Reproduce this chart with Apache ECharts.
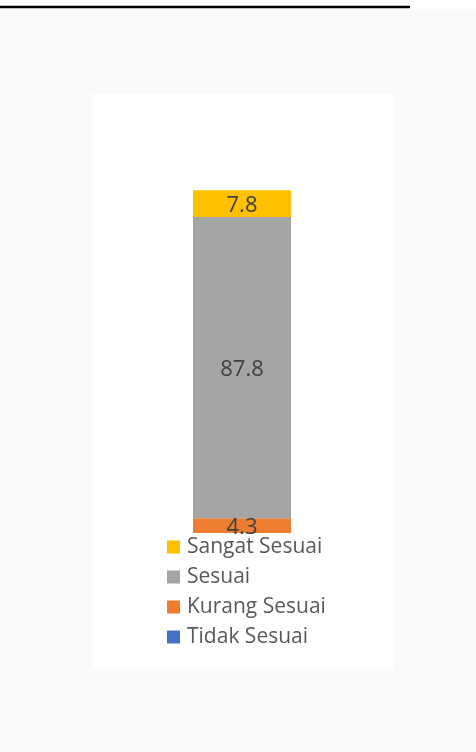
<!DOCTYPE html>
<html>
<head>
<meta charset="utf-8">
<script src="https://cdn.jsdelivr.net/npm/echarts@6/dist/echarts.min.js"></script>
<style>
  html, body { margin: 0; padding: 0; background: #ffffff; }
  #chart { width: 476px; height: 752px; }
</style>
</head>
<body>
<div id="chart"></div>
<script>
// Single stacked column: share of responses per rating level (percent)
const categories = ['Penilaian'];
const tidakSesuai = [0];
const kurangSesuai = [4.3];
const sesuai = [87.8];
const sangatSesuai = [7.8];
const legendOrder = ['Sangat Sesuai', 'Sesuai', 'Kurang Sesuai', 'Tidak Sesuai'];

const colors = {
  'Tidak Sesuai': '#4472c4',
  'Kurang Sesuai': '#ed7d31',
  'Sesuai': '#a5a5a5',
  'Sangat Sesuai': '#ffc000'
};

const font = '"Open Sans", "Noto Sans", sans-serif';

function segment(name, values) {
  return {
    name: name,
    type: 'bar',
    stack: 'total',
    barWidth: 98,
    data: values,
    itemStyle: { color: colors[name] },
    label: {
      show: true,
      position: 'inside',
      offset: [0, 2],
      color: '#404040',
      fontFamily: font,
      fontSize: 22,
      formatter: p => (p.value > 0 ? p.value.toFixed(1) : '')
    },
    emphasis: { disabled: true }
  };
}

const chart = echarts.init(document.getElementById('chart'), null, { renderer: 'canvas' });
chart.setOption({
  backgroundColor: '#fafafa',
  animation: false,
  graphic: [
    { type: 'rect', left: 0, top: 0, shape: { width: 476, height: 9 }, style: { fill: '#ffffff' }, z: -10 },
    { type: 'line', shape: { x1: 0, y1: 7, x2: 410, y2: 7 }, style: { stroke: '#000000', lineWidth: 2.5 }, z: -5 },
    { type: 'rect', shape: { x: 92, y: 94, width: 302, height: 575 }, style: { fill: '#ffffff' }, z: -10 }
  ],
  grid: { left: 92, right: 84, top: 190, bottom: 219, containLabel: false },
  xAxis: { type: 'category', data: categories, show: false },
  yAxis: { type: 'value', min: 0, max: 100, show: false },
  legend: {
    orient: 'vertical',
    left: 167,
    top: 536,
    padding: 0,
    itemWidth: 13,
    itemHeight: 13,
    itemGap: 8,
    icon: 'rect',
    data: legendOrder,
    selectedMode: false,
    textStyle: { color: '#595959', fontFamily: font, fontSize: 21, lineHeight: 22, padding: [0, 0, 0, 2] }
  },
  series: [
    segment('Tidak Sesuai', tidakSesuai),
    segment('Kurang Sesuai', kurangSesuai),
    segment('Sesuai', sesuai),
    segment('Sangat Sesuai', sangatSesuai)
  ]
});
</script>
</body>
</html>
